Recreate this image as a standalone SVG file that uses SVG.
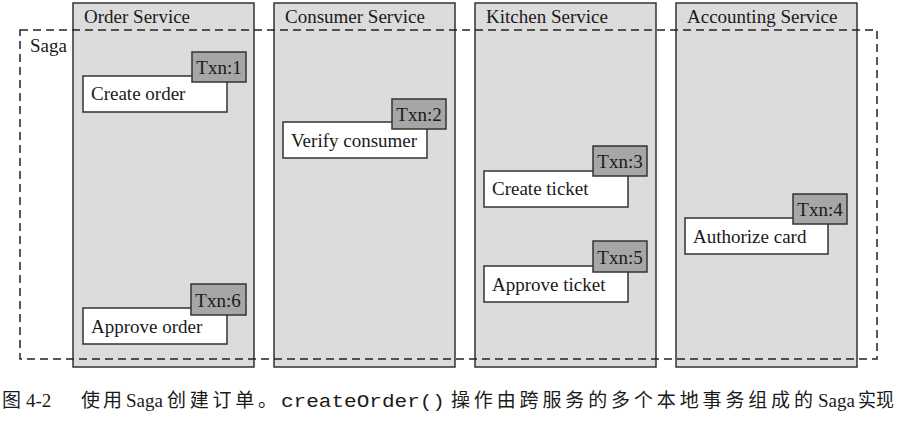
<svg xmlns="http://www.w3.org/2000/svg" width="900" height="422" viewBox="0 0 900 422">
<style>
.col{fill:#dcdcdc;stroke:#333;stroke-width:1.5}
.step{fill:#fff;stroke:#333;stroke-width:1.5}
.txn{fill:#a6a6a6;stroke:#333;stroke-width:1.5}
.t{font-family:"Liberation Serif","Times New Roman",serif;font-size:19px;fill:#1a1a1a}
.tc{font-family:"Liberation Serif","Times New Roman",serif;font-size:19px;fill:#1a1a1a;text-anchor:middle}
.saga{fill:none;stroke:#222;stroke-width:1.5;stroke-dasharray:8 5}
.cap{font-family:"Liberation Serif","Noto Sans CJK SC",serif;font-size:19px;fill:#1a1a1a}
.mono{font-family:"Liberation Mono","Courier New",monospace;font-size:19px;fill:#1a1a1a}
</style>
<rect width="900" height="422" fill="#fff"/>
<g id="order-service">
<rect class="col" x="73" y="3" width="181" height="364"/>
<text class="t" x="84" y="23">Order Service</text>
</g>
<g id="consumer-service">
<rect class="col" x="274" y="3" width="181" height="364"/>
<text class="t" x="285" y="23">Consumer Service</text>
</g>
<g id="kitchen-service">
<rect class="col" x="475" y="3" width="181" height="364"/>
<text class="t" x="486" y="23">Kitchen Service</text>
</g>
<g id="accounting-service">
<rect class="col" x="676" y="3" width="181" height="364"/>
<text class="t" x="687" y="23">Accounting Service</text>
</g>
<g id="saga">
<rect class="saga" x="20" y="30" width="857" height="329"/>
<text class="t" x="30" y="52">Saga</text>
</g>
<g id="create-order">
<rect class="step" x="83" y="76" width="144" height="36"/>
<text class="t" x="91" y="100">Create order</text>
<rect class="txn" x="192" y="52" width="54" height="30"/>
<text class="tc" x="219" y="74">Txn:1</text>
</g>
<g id="verify-consumer">
<rect class="step" x="283" y="122" width="144" height="36"/>
<text class="t" x="291" y="147">Verify consumer</text>
<rect class="txn" x="392" y="99" width="54" height="30"/>
<text class="tc" x="419" y="121">Txn:2</text>
</g>
<g id="create-ticket">
<rect class="step" x="484" y="171" width="144" height="36"/>
<text class="t" x="492" y="195">Create ticket</text>
<rect class="txn" x="593" y="146" width="54" height="30"/>
<text class="tc" x="620" y="168">Txn:3</text>
</g>
<g id="authorize-card">
<rect class="step" x="685" y="218" width="143" height="36"/>
<text class="t" x="693" y="243">Authorize card</text>
<rect class="txn" x="793" y="194" width="54" height="30"/>
<text class="tc" x="820" y="216">Txn:4</text>
</g>
<g id="approve-ticket">
<rect class="step" x="484" y="266" width="144" height="36"/>
<text class="t" x="492" y="291">Approve ticket</text>
<rect class="txn" x="593" y="241" width="54" height="31"/>
<text class="tc" x="620" y="264">Txn:5</text>
</g>
<g id="approve-order">
<rect class="step" x="83" y="308" width="144" height="36"/>
<text class="t" x="91" y="333">Approve order</text>
<rect class="txn" x="191" y="284" width="55" height="31"/>
<text class="tc" x="218" y="307">Txn:6</text>
</g>
<g id="connectors"/>
<g id="caption">
<text class="cap" x="2" y="407">图</text>
<text class="cap" x="26" y="407">4-2</text>
<text class="cap" x="81" y="407" textLength="41" lengthAdjust="spacing">使用</text>
<text class="cap" x="126" y="407">Saga</text>
<text class="cap" x="167" y="407" textLength="110" lengthAdjust="spacing">创建订单。</text>
<text class="mono" x="281" y="407" textLength="164" lengthAdjust="spacingAndGlyphs">createOrder()</text>
<text class="cap" x="451" y="407" textLength="362" lengthAdjust="spacing">操作由跨服务的多个本地事务组成的</text>
<text class="cap" x="818" y="407">Saga</text>
<text class="cap" x="858" y="407" textLength="36" lengthAdjust="spacingAndGlyphs">实现</text>
</g>
</svg>
